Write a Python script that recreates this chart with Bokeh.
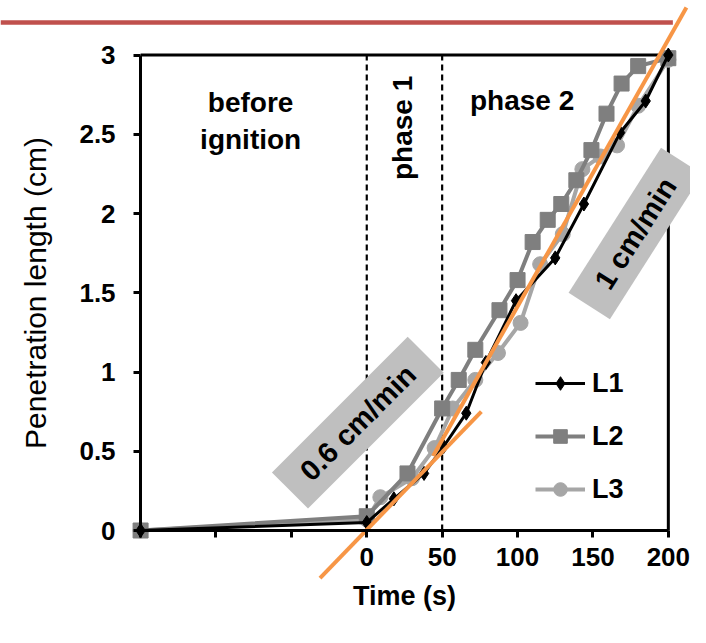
import math
from bokeh.plotting import figure
from bokeh.models import Range1d, FixedTicker, Label, Legend, LegendItem
from bokeh.embed import file_html
from bokeh.resources import INLINE

# ---------------- data ----------------
TIME_L1 = [-150, 0, 18, 38, 51, 66, 79, 99, 125, 144, 168, 185, 200]
PEN_L1 = [0.0, 0.05, 0.20, 0.36, 0.53, 0.74, 1.06, 1.45, 1.72, 2.06, 2.51, 2.71, 3.00]

TIME_L2 = [-150, 0, 27, 50, 61, 72, 88, 100, 110, 120, 129, 139, 149, 159, 169, 180, 200]
PEN_L2 = [0.0, 0.09, 0.36, 0.77, 0.95, 1.14, 1.39, 1.58, 1.82, 1.96, 2.06, 2.21, 2.40, 2.63, 2.82, 2.93, 2.98]

TIME_L3 = [-150, 0, 9, 30, 45, 57, 72, 87, 102, 115, 130, 143, 155, 166, 180, 200]
PEN_L3 = [0.0, 0.07, 0.21, 0.33, 0.52, 0.77, 0.95, 1.12, 1.31, 1.68, 1.87, 2.28, 2.36, 2.43, 2.68, 2.97]

SERIES_NAMES = ["L1", "L2", "L3"]

X_TICKS = [-150, -100, -50, 0, 50, 100, 150, 200]
X_TICK_LABELS = ["", "", "", "0", "50", "100", "150", "200"]
Y_TICKS = [0, 0.5, 1, 1.5, 2, 2.5, 3]
Y_TICK_LABELS = ["0", "0.5", "1", "1.5", "2", "2.5", "3"]

PHASE_BOUNDARIES = [0, 50]

FIT_SLOW_X = [-31, 76]
FIT_SLOW_Y = [-0.30, 0.75]
FIT_FAST_X = [44, 212]
FIT_FAST_Y = [0.47, 3.30]

RATE_LABELS = ["0.6 cm/min", "1 cm/min"]

# ---------------- layout constants ----------------
W, H = 690, 627
X_LO, X_HI = -242.9, 214.7
Y_LO, Y_HI = -0.612, 3.344
X_MIN, X_MAX = -150, 200
Y_MIN, Y_MAX = 0, 3
FONT = "Liberation Sans"

p = figure(width=W, height=H, x_range=Range1d(X_LO, X_HI), y_range=Range1d(Y_LO, Y_HI),
           output_backend="svg", toolbar_location=None, title=None,
           min_border_left=0, min_border_right=0, min_border_top=0, min_border_bottom=0)
p.outline_line_color = None
p.grid.visible = False
p.background_fill_color = "white"
p.border_fill_color = "white"

# header rule (slide decoration)
p.segment(x0=[X_LO], y0=[3.205], x1=[203], y1=[3.205], line_color="#C0504D", line_width=4.5)

# axes
xa = p.xaxis[0]
xa.fixed_location = 0
xa.bounds = (X_MIN, X_MAX)
xa.ticker = FixedTicker(ticks=X_TICKS)
xa.major_label_overrides = dict(zip(X_TICKS, X_TICK_LABELS))
xa.axis_label = "Time (s)"

ya = p.yaxis[0]
ya.fixed_location = X_MIN
ya.bounds = (Y_MIN, Y_MAX)
ya.ticker = FixedTicker(ticks=Y_TICKS)
ya.major_label_overrides = dict(zip(Y_TICKS, Y_TICK_LABELS))
ya.axis_label = "Penetration length (cm)"

for ax in (xa, ya):
    ax.axis_line_color = "black"
    ax.axis_line_width = 3
    ax.major_tick_line_color = "black"
    ax.major_tick_line_width = 3
    ax.major_tick_out = 7
    ax.major_tick_in = 0
    ax.minor_tick_line_color = None
    ax.major_label_text_font = FONT
    ax.major_label_text_font_size = "26px"
    ax.major_label_text_font_style = "bold"
    ax.major_label_text_color = "black"
    ax.axis_label_text_font = FONT
    ax.axis_label_text_color = "black"

xa.major_label_standoff = 10
xa.axis_label_text_font_size = "27px"
xa.axis_label_text_font_style = "bold"
xa.axis_label_standoff = 12
ya.major_label_standoff = 18
ya.axis_label_text_font_size = "30px"
ya.axis_label_text_font_style = "normal"
ya.axis_label_standoff = 24

# frame top / right borders
p.line([X_MIN, X_MAX, X_MAX], [Y_MAX, Y_MAX, Y_MIN], line_color="black", line_width=3)

# phase boundaries
p.segment(x0=PHASE_BOUNDARIES, y0=[Y_MIN] * len(PHASE_BOUNDARIES),
          x1=PHASE_BOUNDARIES, y1=[Y_MAX] * len(PHASE_BOUNDARIES),
          line_color="black", line_width=2.2, line_dash="6 4")

# rate boxes
box_x = [-5.9, 178.2]
box_y = [0.681, 1.874]
box_w = [192, 172]
box_h = [51, 49]
box_a = [45, 57.5]
p.rect(x=box_x, y=box_y, width=box_w, height=box_h, angle=box_a, angle_units="deg",
       width_units="screen", height_units="screen", fill_color="#BFBFBF", line_color=None)
for bx, by, ba, txt in zip(box_x, box_y, box_a, RATE_LABELS):
    p.add_layout(Label(x=bx, y=by, text=txt, angle=ba, angle_units="deg",
                       text_align="center", text_baseline="middle", text_font=FONT,
                       text_font_size="29px", text_font_style="bold", text_color="black"))

# region labels
p.add_layout(Label(x=-77, y=2.585, text="before\nignition", text_align="center",
                   text_baseline="middle", text_font=FONT, text_font_size="28px",
                   text_font_style="bold", text_color="black", text_line_height=1.2))
p.add_layout(Label(x=24, y=2.54, text="phase 1", angle=90, angle_units="deg",
                   text_align="center", text_baseline="middle", text_font=FONT,
                   text_font_size="28px", text_font_style="bold", text_color="black"))
p.add_layout(Label(x=103, y=2.71, text="phase 2", text_align="center",
                   text_baseline="middle", text_font=FONT, text_font_size="28px",
                   text_font_style="bold", text_color="black"))

# series
c3 = "#A6A6A6"
c2 = "#7F7F7F"
c1 = "black"
l3_line = p.line(TIME_L3, PEN_L3, line_color=c3, line_width=4)
l3_pts = p.scatter(TIME_L3, PEN_L3, marker="circle", size=15, fill_color=c3, line_color=c3)
l2_line = p.line(TIME_L2, PEN_L2, line_color=c2, line_width=4)
l2_pts = p.scatter(TIME_L2, PEN_L2, marker="square", size=15, fill_color=c2, line_color=c2)
l1_line = p.line(TIME_L1, PEN_L1, line_color=c1, line_width=3)
l1_pts = p.scatter(TIME_L1, PEN_L1, marker="diamond", size=14, fill_color=c1, line_color=c1)

# fit lines
orange = "#F79646"
p.line(FIT_SLOW_X, FIT_SLOW_Y, line_color=orange, line_width=4)
p.line(FIT_FAST_X, FIT_FAST_Y, line_color=orange, line_width=4)

legend = Legend(items=[LegendItem(label=SERIES_NAMES[0], renderers=[l1_line, l1_pts]),
                       LegendItem(label=SERIES_NAMES[1], renderers=[l2_line, l2_pts]),
                       LegendItem(label=SERIES_NAMES[2], renderers=[l3_line, l3_pts])],
                location=(535, 121), orientation="vertical",
                border_line_color=None, background_fill_alpha=0,
                padding=0, margin=0, spacing=19, glyph_width=50, glyph_height=34,
                label_height=34, label_standoff=7,
                label_text_font=FONT, label_text_font_size="27px",
                label_text_font_style="bold", label_text_color="black")
p.add_layout(legend)

open("out.html", "w").write(file_html(p, INLINE))
